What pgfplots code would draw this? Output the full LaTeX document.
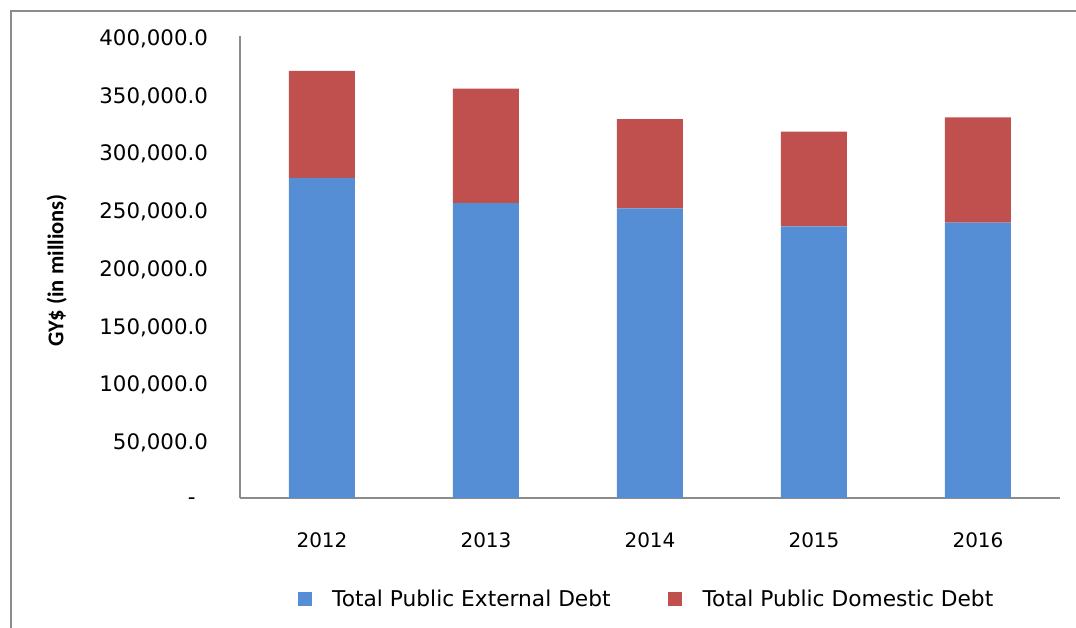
\documentclass[border=0pt]{standalone}
\usepackage{pgfplots}
\pgfplotsset{compat=1.18}
\usepackage{fontspec}
\setmainfont{DejaVu Sans}
\newfontfamily\calfont{Carlito}
\definecolor{extblue}{HTML}{558ED5}
\definecolor{domred}{HTML}{C0504D}
\definecolor{axgray}{HTML}{8C8C8C}
\pgfplotsset{sqlegend/.style={legend image code/.code={\fill[##1] (0pt,-5pt) rectangle (10.5pt,5pt); \path (24pt,0pt);}}}
\begin{document}
\begin{tikzpicture}
\path[use as bounding box] (-180pt,-97.5pt) rectangle (627pt,373.5pt);
\draw[axgray, line width=1.5pt] (-171.75pt,-98pt) -- (-171.75pt,365.25pt) -- (628pt,365.25pt);
\begin{axis}[
 at={(0pt,0pt)}, anchor=south west,
 scale only axis, width=615pt, height=346.5pt,
 xmin=-0.5, xmax=4.5, ymin=0, ymax=400000,
 ybar stacked, bar width=49.5pt,
 axis x line*=bottom, axis y line*=left,
 axis line style={axgray, line width=1.2pt, -},
 major tick length=0pt,
 xtick={0,1,2,3,4}, xticklabels={2012,2013,2014,2015,2016},
 ytick={0,50000,100000,150000,200000,250000,300000,350000,400000},
 yticklabels={{-\hspace*{9.3pt}},{50,000.0},{100,000.0},{150,000.0},{200,000.0},{250,000.0},{300,000.0},{350,000.0},{400,000.0}},
 scaled y ticks=false,
 xticklabel style={font=\fontsize{15pt}{18pt}\selectfont, anchor=north, inner sep=0pt, yshift=-25.7pt},
 yticklabel style={font=\fontsize{16pt}{19pt}\selectfont, anchor=east, inner sep=0pt, xshift=-23.8pt, yshift=-2pt},
 clip=false,
 legend columns=2,
 legend style={at={(rel axis cs:0.0699,-0.2186)}, anchor=west, draw=none, fill=none, inner sep=0pt, font=\fontsize{16.3pt}{19pt}\selectfont, /tikz/every even column/.append style={column sep=41pt}},
 legend cell align=left,
]
\addplot[fill=extblue, draw=none, sqlegend] coordinates {(0,277100) (1,255400) (2,250800) (3,235200) (4,238400)};
\addplot[fill=domred, draw=none, sqlegend] coordinates {(0,92600) (1,99000) (2,77300) (3,81900) (4,91200)};
\legend{Total Public External Debt, Total Public Domestic Debt}
\node[rotate=90, font=\calfont\bfseries\fontsize{16.9pt}{19pt}\selectfont] at (rel axis cs:-0.2235,0.4924) {GY\$ (in millions)};
\end{axis}
\end{tikzpicture}
\end{document}
